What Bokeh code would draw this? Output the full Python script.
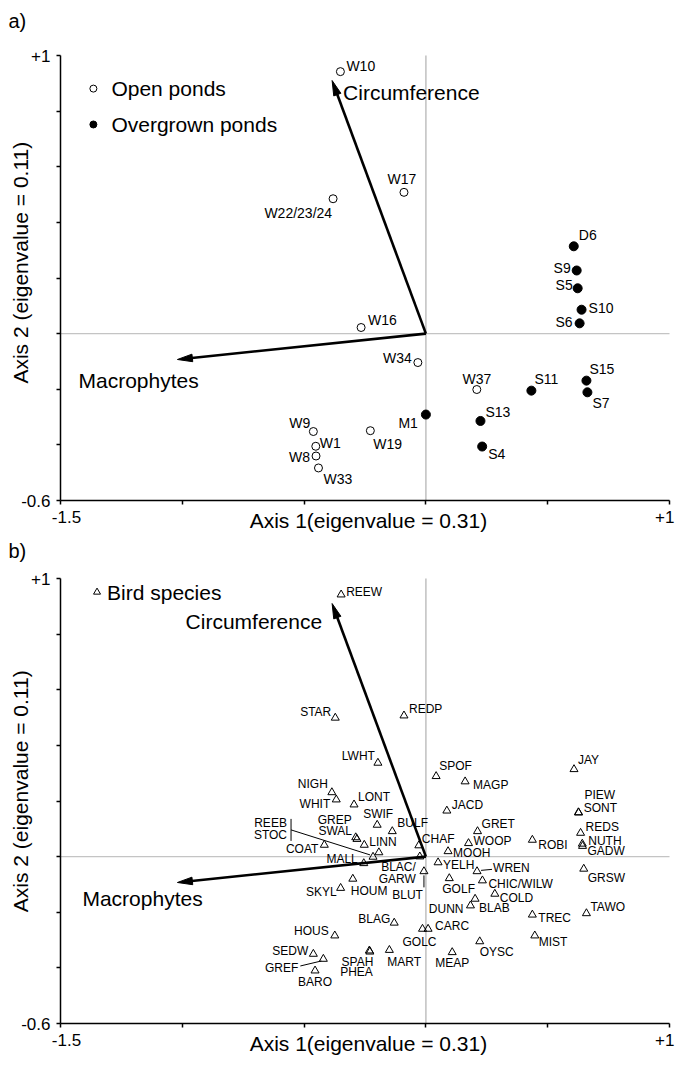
import math
from bokeh.plotting import figure
from bokeh.models import Range1d, FixedTicker, ColumnDataSource, CustomJSTickFormatter
from bokeh.layouts import column
from bokeh.core.properties import value
from bokeh.embed import file_html
from bokeh.resources import INLINE

FONT = "Liberation Sans"

# ---------------- data ----------------
pond_names = ["W10", "W17", "W22/23/24", "W16", "W34", "W37", "W19", "W9", "W1", "W8", "W33",
              "D6", "S9", "S5", "S10", "S6", "S11", "S15", "S7", "M1", "S13", "S4"]
pond_x = [-0.351, -0.090, -0.381, -0.266, -0.033, 0.209, -0.228, -0.462, -0.452, -0.451, -0.441,
          0.607, 0.619, 0.623, 0.639, 0.631, 0.433, 0.659, 0.663, 0.000, 0.224, 0.231]
pond_y = [0.942, 0.508, 0.485, 0.022, -0.104, -0.201, -0.349, -0.352, -0.405, -0.440, -0.483,
          0.314, 0.227, 0.163, 0.086, 0.037, -0.205, -0.169, -0.211, -0.291, -0.314, -0.406]
pond_type = ["Open ponds"] * 11 + ["Overgrown ponds"] * 11

env_names = ["Circumference", "Macrophytes"]
env_x = [-0.385, -1.020]
env_y = [0.910, -0.093]

bird_names = ["REEW", "STAR", "REDP", "LWHT", "SPOF", "MAGP", "JAY", "NIGH", "WHIT", "LONT", "JACD",
              "GREP", "SWAL", "SWIF", "BULF", "LINN", "COAT", "REEB", "STOC", "MALL",
              "CHAF", "BLAC/GARW", "BLUT", "MOOH", "YELH", "WREN", "CHIC/WILW", "GOLF", "COLD", "DUNN", "BLAB",
              "GRET", "WOOP", "ROBI", "PIEW", "SONT", "REDS", "NUTH", "GADW", "GRSW",
              "TAWO", "TREC", "MIST", "OYSC", "MEAP", "CARC", "GOLC", "MART", "SPAH", "PHEA",
              "BLAG", "HOUM", "SKYL", "HOUS", "SEDW", "GREF", "BARO"]
bird_x = [-0.348, -0.372, -0.090, -0.197, 0.042, 0.161, 0.608, -0.386, -0.368, -0.295, 0.086,
          -0.288, -0.283, -0.200, -0.138, -0.253, -0.417, -0.193, -0.217, -0.255,
          -0.029, -0.025, -0.008, 0.091, 0.050, 0.210, 0.232, 0.096, 0.283, 0.183, 0.202,
          0.212, 0.175, 0.437, 0.626, 0.627, 0.635, 0.642, 0.643, 0.648,
          0.659, 0.437, 0.447, 0.221, 0.108, 0.009, -0.014, -0.150, -0.232, -0.230,
          -0.130, -0.300, -0.350, -0.374, -0.462, -0.421, -0.455]
bird_y = [0.942, 0.499, 0.507, 0.337, 0.289, 0.270, 0.314, 0.231, 0.205, 0.187, 0.165,
          0.069, 0.063, 0.114, 0.091, 0.042, 0.042, 0.015, -0.001, -0.024,
          0.040, 0.000, -0.053, 0.019, -0.021, -0.053, -0.086, -0.078, -0.134, -0.176, -0.152,
          0.091, 0.048, 0.060, 0.159, 0.158, 0.085, 0.046, 0.038, -0.044,
          -0.204, -0.209, -0.284, -0.305, -0.344, -0.260, -0.260, -0.336, -0.338, -0.342,
          -0.238, -0.080, -0.113, -0.284, -0.350, -0.368, -0.410]

x_ticks = [-1.5, -1.0, -0.5, 0.0, 0.5, 1.0]
y_ticks = [-0.6, -0.4, -0.2, 0.0, 0.2, 0.4, 0.6, 0.8, 1.0]
x_tick_labels = ["-1.5", "+1"]
x_title = "Axis 1(eigenvalue = 0.31)"
y_title = "Axis 2 (eigenvalue = 0.11)"

# ---------------- label placement (screen px offsets, style only) ----------------
pond_label_pos = {
    "W10": (6, -6, "left"), "W17": (-2, -13, "center"), "W22/23/24": (-1, 14, "right"),
    "W16": (7, -8, "left"), "W34": (-6, -5, "right"), "W37": (0, -11, "center"),
    "W19": (3, 13, "left"), "W9": (-3, -9, "right"), "W1": (4, -3, "left"),
    "W8": (-6, 1, "right"), "W33": (5, 11, "left"), "D6": (5, -11, "left"),
    "S9": (-6, -2, "right"), "S5": (-5, -3, "right"), "S10": (7, -2, "left"),
    "S6": (-7, -1, "right"), "S11": (3, -12, "left"), "S15": (3, -12, "left"),
    "S7": (5, 11, "left"), "M1": (-8, 8, "right"), "S13": (5, -9, "left"), "S4": (6, 7, "left"),
}
bird_label_pos = {
    "REEW": [(5, -3, "left")], "STAR": [(-4, -6, "right")], "REDP": [(5, -7, "left")],
    "LWHT": [(-3, -7, "right")], "SPOF": [(3, -10, "left")], "MAGP": [(8, 3, "left")],
    "JAY": [(4, -9, "left")], "NIGH": [(-4, -8, "right")], "WHIT": [(-6, 4, "right")],
    "LONT": [(4, -8, "left")], "JACD": [(5, -6, "left")], "GREP": [(-4, -17, "right")],
    "SWAL": [(-5, -8, "right")], "SWIF": [(1, -11, "center")], "BULF": [(5, -8, "left")],
    "LINN": [(5, -3, "left")], "COAT": [(-6, 4, "right")], "REEB": [(-92, -29, "right")],
    "STOC": [(-86, -22, "right")], "MALL": [(-6, -4, "right")], "CHAF": [(3, -7, "left")],
    "BLAC/GARW": [(-4, 10, "right", "BLAC/"), (-4, 22, "right", "GARW")],
    "BLUT": [(-1, 24, "right")], "MOOH": [(5, 2, "left")], "YELH": [(5, 3, "left")],
    "WREN": [(16, -3, "left")], "CHIC/WILW": [(6, 3, "left")], "GOLF": [(-7, 11, "left")],
    "COLD": [(5, 4, "left")], "DUNN": [(-7, 3, "right")], "BLAB": [(4, 9, "left")],
    "GRET": [(4, -7, "left")], "WOOP": [(5, -2, "left")], "ROBI": [(6, 5, "left")],
    "PIEW": [(6, -17, "left")], "SONT": [(5, -5, "left")], "REDS": [(5, -6, "left")],
    "NUTH": [(6, -3, "left")], "GADW": [(5, 5, "left")], "GRSW": [(4, 9, "left")],
    "TAWO": [(4, -6, "left")], "TREC": [(6, 3, "left")], "MIST": [(4, 6, "left")],
    "OYSC": [(0, 11, "left")], "MEAP": [(0, 11, "center")], "CARC": [(7, -3, "left")],
    "GOLC": [(-3, 13, "center")], "MART": [(-2, 12, "left")], "SPAH": [(4, 11, "right")],
    "PHEA": [(3, 20, "right")], "BLAG": [(-4, -4, "right")], "HOUM": [(-2, 12, "left")],
    "SKYL": [(-4, 4, "right")], "HOUS": [(-6, -5, "right")], "SEDW": [(-5, -3, "right")],
    "GREF": [(-25, 9, "right")], "BARO": [(0, 11, "center")],
}
# leader lines: (name, dx1, dy1, dx2, dy2) in px relative to the point (dy down)
bird_leaders = [
    ("STOC", -82, -38, -82, -16),
    ("STOC", -82, -27, -3, -2),
    ("BLUT", 0, 4, 0, 16),
    ("WREN", 4, -1, 15, -2),
    ("GREF", -2, 2, -23, 7),
]

# ---------------- layout (pixels) ----------------
W = 675
XR = (-1.5, 1.0)
YR = (-0.6, 1.0)
X_LEFT_PX, X_RIGHT_PX = 60, 669      # where the axis ends sit on the canvas


def make_fig(height, top_px, bot_px):
    sx = (X_RIGHT_PX - X_LEFT_PX) / (XR[1] - XR[0])
    sy = (bot_px - top_px) / (YR[1] - YR[0])
    xr = Range1d(XR[0] - X_LEFT_PX / sx, XR[0] + (W - X_LEFT_PX) / sx)
    yr = Range1d(YR[0] - (height - bot_px) / sy, YR[1] + top_px / sy)
    p = figure(width=W, height=height, x_range=xr, y_range=yr, title=None,
               output_backend="svg", toolbar_location=None,
               min_border_left=0, min_border_right=0, min_border_top=0, min_border_bottom=0)
    p.outline_line_color = None
    p.grid.grid_line_color = None
    p.background_fill_color = "white"
    for ax in (p.xaxis, p.yaxis):
        ax.axis_line_color = "black"
        ax.axis_line_width = 1.5
        ax.major_tick_line_color = "black"
        ax.major_tick_line_width = 1.5
        ax.major_tick_in = 0
        ax.major_tick_out = 4
        ax.minor_tick_line_color = None
    p.xaxis.fixed_location = YR[0]
    p.yaxis.fixed_location = XR[0]
    p.xaxis.bounds = XR
    p.yaxis.bounds = YR
    p.xaxis.ticker = FixedTicker(ticks=x_ticks, minor_ticks=[])
    p.yaxis.ticker = FixedTicker(ticks=y_ticks, minor_ticks=[])
    p.xaxis.formatter = CustomJSTickFormatter(code="return '';")
    p.yaxis.formatter = CustomJSTickFormatter(
        code="if (tick > 0.99) {return '+1';} if (tick < -0.59) {return '-0.6';} return '';")
    p.yaxis.major_label_text_font = FONT
    p.yaxis.major_label_text_font_size = "17px"
    p.yaxis.major_label_text_color = "black"
    p.yaxis.major_label_standoff = 6
    # zero lines
    p.segment(x0=[0, XR[0]], y0=[YR[0], 0], x1=[0, XR[1]], y1=[YR[1], 0],
              line_color="#c4c4c4", line_width=[1.6, 1.1])
    return p, sx, sy


def txt(p, xs, ys, texts, dx, dy, align, size, angle=0.0):
    src = ColumnDataSource(dict(x=xs, y=ys, text=texts, dx=dx, dy=dy, al=align))
    p.text(x="x", y="y", text="text", x_offset="dx", y_offset="dy", text_align="al",
           text_baseline="middle", text_font=value(FONT), text_font_size=size,
           text_color="black", angle=angle, source=src)


def frame_texts(p, tag, tag_dy, ytitle_y):
    txt(p, [XR[0]], [YR[1]], [tag], [-52], [tag_dy], ["left"], "20px")
    txt(p, [XR[0], XR[1]], [YR[0], YR[0]], x_tick_labels, [6, 5], [16, 16], ["center", "right"], "17px")
    txt(p, [-0.236], [YR[0]], [x_title], [0], [20], ["center"], "21px")
    txt(p, [XR[0]], [ytitle_y], [y_title], [-40], [0], ["center"], "21px", angle=math.pi / 2)


def draw_env(p, sx, sy):
    L, hw = 15, 3.8
    for ex, ey in zip(env_x, env_y):
        vx, vy = ex * sx, ey * sy
        n = math.hypot(vx, vy)
        ux, uy = vx / n, vy / n
        bx, by = vx - L * ux, vy - L * uy
        nx, ny = -uy, ux
        p.segment(x0=[0], y0=[0], x1=[(bx + 3 * ux) / sx], y1=[(by + 3 * uy) / sy],
                  line_color="black", line_width=2.6)
        p.patch(x=[vx / sx, (bx + hw * nx) / sx, (bx - hw * nx) / sx],
                y=[vy / sy, (by + hw * ny) / sy, (by - hw * ny) / sy],
                fill_color="black", line_color="black", line_width=1)


# ---------------- panel a ----------------
pa, sxa, sya = make_fig(534, 55, 500)
frame_texts(pa, "a)", -35, 0.255)
draw_env(pa, sxa, sya)
txt(pa, [-0.340, -1.426], [0.867, -0.169], env_names, [0, 0], [0, 0], ["left", "left"], "21px")

open_idx = [i for i, t in enumerate(pond_type) if t == "Open ponds"]
over_idx = [i for i, t in enumerate(pond_type) if t == "Overgrown ponds"]
pa.scatter([pond_x[i] for i in open_idx], [pond_y[i] for i in open_idx], marker="circle",
           size=8, fill_color="white", line_color="black", line_width=1)
pa.scatter([pond_x[i] for i in over_idx], [pond_y[i] for i in over_idx], marker="circle",
           size=9, fill_color="black", line_color="black", line_width=1)
txt(pa, pond_x, pond_y, pond_names,
    [pond_label_pos[n][0] for n in pond_names],
    [pond_label_pos[n][1] for n in pond_names],
    [pond_label_pos[n][2] for n in pond_names], "14px")

# legend (a)
leg_x = -1.365
pa.scatter([leg_x], [0.881], marker="circle", size=7, fill_color="white", line_color="black", line_width=1)
pa.scatter([leg_x], [0.752], marker="circle", size=7, fill_color="black", line_color="black", line_width=1)
txt(pa, [leg_x, leg_x], [0.881, 0.752], ["Open ponds", "Overgrown ponds"], [18, 18], [0, 0],
    ["left", "left"], "21px")

# ---------------- panel b ----------------
pb, sxb, syb = make_fig(531, 44, 489)
frame_texts(pb, "b)", -28, 0.235)
draw_env(pb, sxb, syb)
txt(pb, [-0.426, -1.41], [0.846, -0.152], env_names, [0, 0], [0, 0], ["right", "left"], "21px")

pb.scatter(bird_x, bird_y, marker="triangle", size=8, fill_color=None,
           line_color="black", line_width=1)

lx, ly, lt, ldx, ldy, lal = [], [], [], [], [], []
for n, x, y in zip(bird_names, bird_x, bird_y):
    for spec in bird_label_pos[n]:
        lx.append(x)
        ly.append(y)
        lt.append(spec[3] if len(spec) > 3 else n)
        ldx.append(spec[0])
        ldy.append(spec[1])
        lal.append(spec[2])
txt(pb, lx, ly, lt, ldx, ldy, lal, "12px")

x0s, y0s, x1s, y1s = [], [], [], []
for n, a1, b1, a2, b2 in bird_leaders:
    i = bird_names.index(n)
    x0s.append(bird_x[i] + a1 / sxb)
    y0s.append(bird_y[i] - b1 / syb)
    x1s.append(bird_x[i] + a2 / sxb)
    y1s.append(bird_y[i] - b2 / syb)
pb.segment(x0=x0s, y0=y0s, x1=x1s, y1=y1s, line_color="black", line_width=1)

# legend (b)
pb.scatter([-1.35], [0.951], marker="triangle", size=7, fill_color=None, line_color="black", line_width=1)
txt(pb, [-1.35], [0.951], ["Bird species"], [10], [0], ["left"], "21px")

layout = column(pa, pb)
open("out.html", "w").write(file_html(layout, INLINE))
